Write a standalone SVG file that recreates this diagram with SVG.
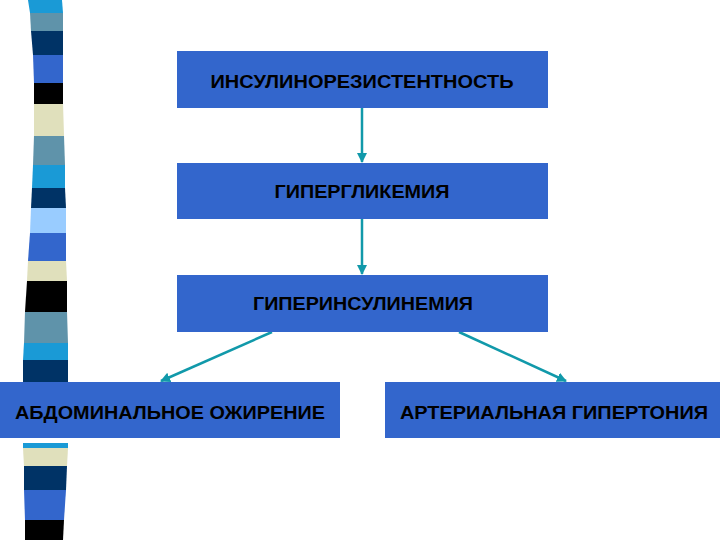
<svg xmlns="http://www.w3.org/2000/svg" width="720" height="540" viewBox="0 0 720 540">
<style>
.box{fill:#3366cc}
.t{font-family:"Liberation Sans",Arial,sans-serif;font-weight:bold;font-size:18px;fill:#000;text-anchor:middle}
.c{stroke:#1199aa;stroke-width:2.5;fill:none;marker-end:url(#ah)}
</style>
<defs>
<marker id="ah" viewBox="0 0 10 10" refX="9" refY="5" markerWidth="4" markerHeight="4" orient="auto" markerUnits="strokeWidth">
<path d="M0,0 L10,5 L0,10 z" fill="#1199aa"/>
</marker>
</defs>
<rect width="720" height="540" fill="#fff"/>
<g id="stripes">
<polygon points="28,0 62,0 63,13 30,13" fill="#1a9ad6"/>
<polygon points="30,13 63,13 63,31 31,31" fill="#5f93aa"/>
<polygon points="31,31 63,31 63,55 33,55" fill="#003366"/>
<polygon points="33,55 63,55 63,83 34,83" fill="#3366cc"/>
<polygon points="34,83 63,83 63,104 34,104" fill="#000"/>
<polygon points="34,104 63,104 64,136 34,136" fill="#e0e0bc"/>
<polygon points="34,136 64,136 65,165 33,165" fill="#5f93aa"/>
<polygon points="33,165 65,165 65,188 32,188" fill="#1a9ad6"/>
<polygon points="32,188 65,188 66,208 31,208" fill="#003366"/>
<polygon points="31,208 66,208 66,233 30,233" fill="#99ccff"/>
<polygon points="30,233 66,233 66,261 28,261" fill="#3366cc"/>
<polygon points="28,261 66,261 67,281 27,281" fill="#e0e0bc"/>
<polygon points="27,281 67,281 67,312 25,312" fill="#000"/>
<polygon points="25,312 67,312 68,343 24,343" fill="#5f93aa"/>
<polygon points="24,343 68,343 68,360 23,360" fill="#1a9ad6"/>
<polygon points="23,360 68,360 68,384 23,384" fill="#003366"/>
<polygon points="23,443 68,443 68,448 23,448" fill="#1a9ad6"/>
<polygon points="23,448 68,448 67,466 24,466" fill="#e0e0bc"/>
<polygon points="24,466 67,466 66,490 24,490" fill="#003366"/>
<polygon points="24,490 66,490 64,520 25,520" fill="#3366cc"/>
<polygon points="25,520 64,520 63,540 25,540" fill="#000"/>
</g>
<g id="connectors">
<line class="c" x1="362" y1="108" x2="362" y2="162"/>
<line class="c" x1="362" y1="219" x2="362" y2="274"/>
<line class="c" x1="272" y1="332" x2="161" y2="381"/>
<line class="c" x1="459" y1="332" x2="566" y2="381"/>
</g>
<g id="n1"><rect class="box" x="177" y="51" width="371" height="57"/><text class="t" x="362" y="88" textLength="303" lengthAdjust="spacingAndGlyphs">ИНСУЛИНОРЕЗИСТЕНТНОСТЬ</text></g>
<g id="n2"><rect class="box" x="177" y="163" width="371" height="56"/><text class="t" x="362" y="198" textLength="175" lengthAdjust="spacingAndGlyphs">ГИПЕРГЛИКЕМИЯ</text></g>
<g id="n3"><rect class="box" x="177" y="275" width="371" height="57"/><text class="t" x="363" y="310" textLength="220" lengthAdjust="spacingAndGlyphs">ГИПЕРИНСУЛИНЕМИЯ</text></g>
<g id="n4"><rect class="box" x="0" y="382" width="340" height="56"/><text class="t" x="170" y="419" textLength="310" lengthAdjust="spacingAndGlyphs">АБДОМИНАЛЬНОЕ ОЖИРЕНИЕ</text></g>
<g id="n5"><rect class="box" x="385" y="382" width="335" height="56"/><text class="t" x="554" y="419" textLength="308" lengthAdjust="spacingAndGlyphs">АРТЕРИАЛЬНАЯ ГИПЕРТОНИЯ</text></g>
</svg>
